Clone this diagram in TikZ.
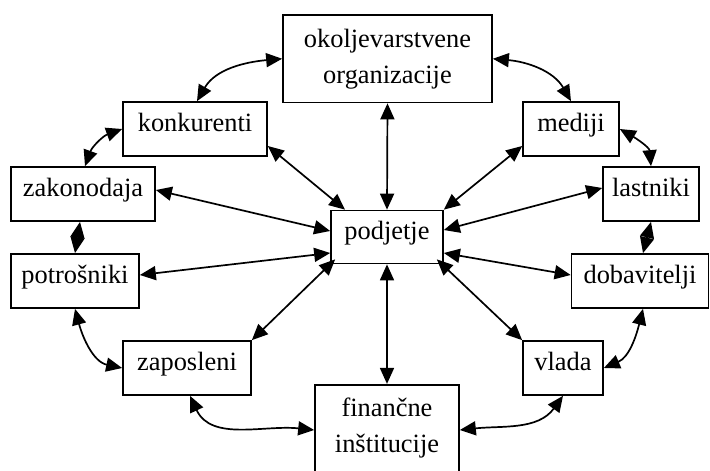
\documentclass[tikz,border=0pt]{standalone}
\usepackage{fontspec}
\setmainfont{Liberation Serif}
\usetikzlibrary{arrows.meta}
\begin{document}
\begin{tikzpicture}[x=1pt,y=-1pt,
  box/.style={draw,line width=1.7pt,rectangle,inner sep=0pt,minimum height=54pt,
    font=\fontsize{26.4}{36}\selectfont},
  one/.style={text height=0.7em,text depth=0.25em},
  two/.style={align=center,minimum height=87.5pt},
  link/.style={line width=1.7pt,{Triangle[length=16pt,width=14pt]}-{Triangle[length=16pt,width=14pt]}}]
\useasboundingbox (0,0) rectangle (710,471);
\node[box,two,minimum width=209pt] (okol) at (387.5,58.75) {okoljevarstvene\\organizacije};
\node[box,one,minimum width=144pt] (konk) at (195,129) {konkurenti};
\node[box,one,minimum width=96pt] (medi) at (571,129) {mediji};
\node[box,one,minimum width=144pt] (zako) at (83,194) {zakonodaja};
\node[box,one,minimum width=96pt] (last) at (651,194) {lastniki};
\node[box,one,minimum width=112pt,minimum height=53pt] (podj) at (387,237) {podjetje};
\node[box,one,minimum width=128pt] (potr) at (75,281) {potrošniki};
\node[box,one,minimum width=137pt] (doba) at (640,281) {dobavitelji};
\node[box,one,minimum width=128pt] (zapo) at (187,368) {zaposleni};
\node[box,one,minimum width=80pt] (vlad) at (563,368) {vlada};
\node[box,two,minimum width=144pt] (fina) at (387,428.5) {finančne\\inštitucije};
% straight connectors to podjetje
\draw[link] (okol.south) -- (podj.north);
\draw[link] (podj.south) -- (fina.north);
\draw[link] ([yshift=-17pt]konk.east) -- ([xshift=-42pt]podj.north);
\draw[link] ([yshift=-17pt]medi.west) -- (podj.north east);
\draw[link] ([yshift=4pt]zako.east) -- ([yshift=6pt]podj.west);
\draw[link] ([yshift=6pt]last.west) -- ([yshift=7pt]podj.east);
\draw[link] ([yshift=6pt]potr.east) -- ([yshift=-16pt]podj.west);
\draw[link] ([yshift=6pt]doba.west) -- ([yshift=-16pt]podj.east);
\draw[link] (zapo.north east) -- ([xshift=5pt,yshift=5pt]podj.south west);
\draw[link] (vlad.north west) -- ([xshift=-7pt,yshift=5pt]podj.south east);
% ring
\draw[link] (okol.west) to[out=185,in=60] ([xshift=2pt]konk.north);
\draw[link] (okol.east) to[out=-5,in=120] (medi.north);
\draw[link] (konk.west) to[out=200,in=70] ([xshift=2pt]zako.north);
\draw[link] (medi.east) to[out=-30,in=95] (last.north);
\draw[link] ([xshift=-3pt]zako.south) -- (potr.north);
\draw[link] (last.south) -- ([xshift=3pt]doba.north);
\draw[link] (potr.south) to[out=-75,in=168] (zapo.west);
\draw[link] ([xshift=3pt]doba.south) to[out=-104,in=23] (vlad.east);
\draw[link] ([xshift=3pt]zapo.south) to[out=-65,in=174] ([yshift=-1.5pt]fina.west);
\draw[link] ([yshift=-1.5pt]fina.east) to[out=6,in=-126] (vlad.south);
\end{tikzpicture}
\end{document}
